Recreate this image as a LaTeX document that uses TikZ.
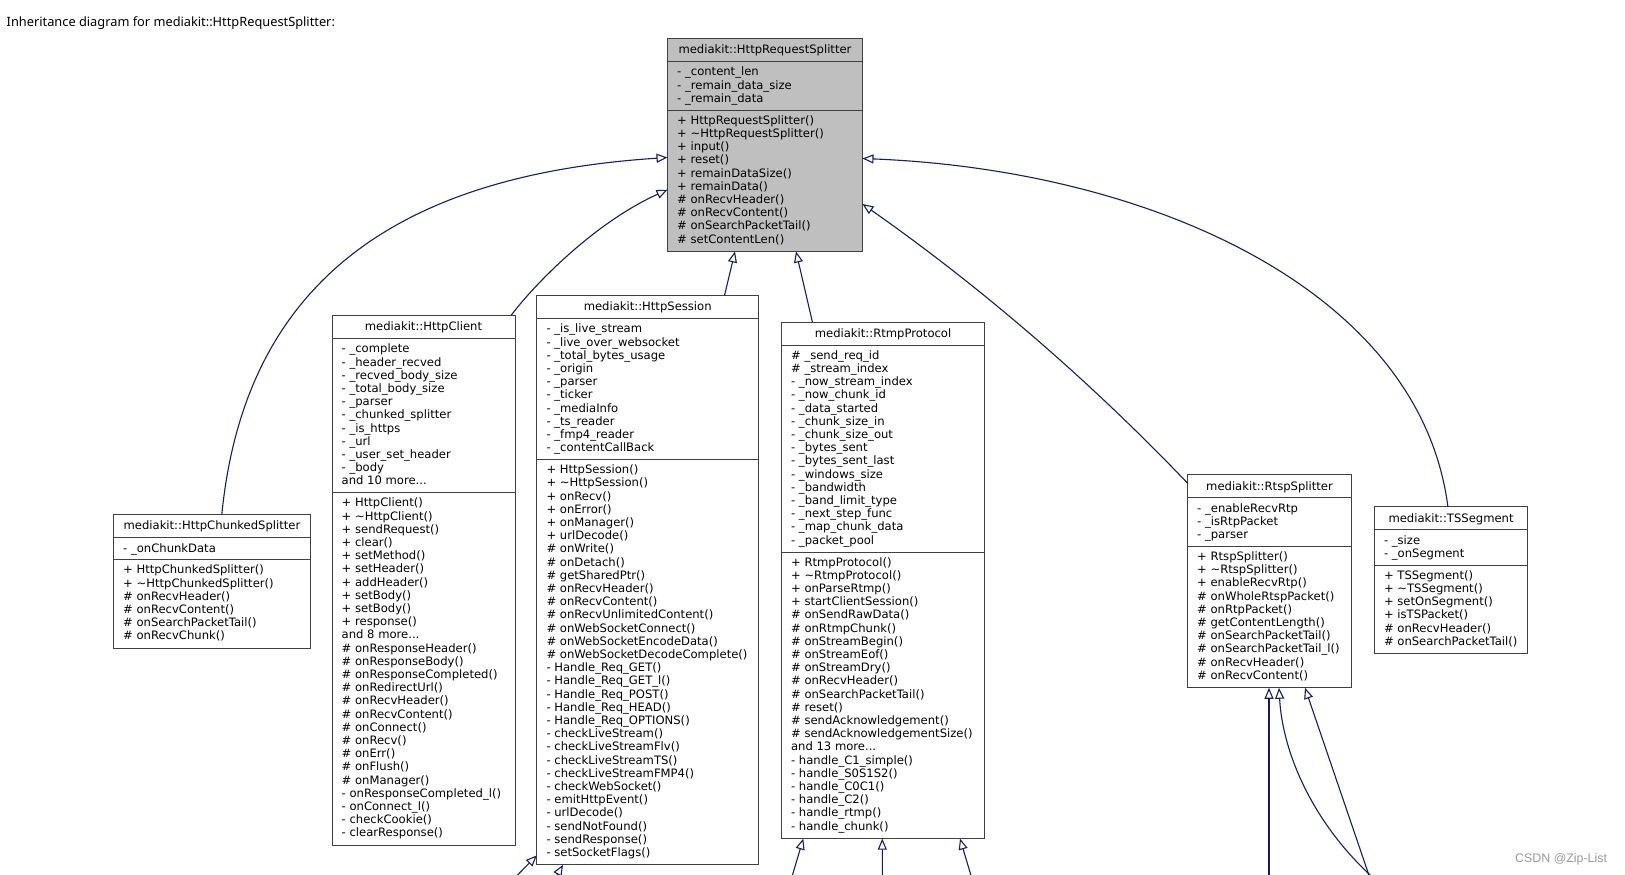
\documentclass[tikz,border=0pt]{standalone}
\usepackage{fontspec}
\usetikzlibrary{arrows.meta}
\newfontfamily\umlfam{DejaVu Sans}
\newfontfamily\headfam{Noto Sans}
\newfontfamily\markfam{Liberation Sans}
\newcommand\umlfont{\umlfam\fontsize{11.6}{13.2}\selectfont}
\definecolor{boxgray}{HTML}{404040}
\definecolor{mainfill}{HTML}{BFBFBF}
\definecolor{edgeblue}{HTML}{191970}
\definecolor{markgray}{HTML}{9A9A9A}
\def\ucfill{white}
\tikzset{
  clsbox/.style={draw=boxgray, line width=1pt, fill=\ucfill, inner sep=0pt, outer sep=0pt},
  clsline/.style={draw=boxgray, line width=1pt},
  clstitle/.style={font=\umlfont, inner sep=0pt},
  clstext/.style={font=\umlfont, inner sep=0pt, align=left, execute at begin node=\strut},
  inh/.style={draw=edgeblue, line width=1.1pt, -{Triangle[open, length=11pt, width=9pt]}}
}
% #1 name, #2 left x, #3 top y, #4 width, #5 title, #6 n attrs, #7 attrs, #8 n ops, #9 ops
\newcommand{\umlclass}[9]{%
  \pgfmathsetmacro{\ucSepA}{#3+23}%
  \pgfmathsetmacro{\ucSepB}{#3+32.1+13.2*#6}%
  \pgfmathsetmacro{\ucBot}{\ucSepB+9.3+13.2*#8}%
  \pgfmathsetmacro{\ucH}{\ucBot-(#3)}%
  \node[clsbox, minimum width=#4pt, minimum height=\ucH pt, anchor=north west] (#1) at (#2,#3) {};%
  \draw[clsline] (#2,\ucSepA) -- ++(#4,0);%
  \draw[clsline] (#2,\ucSepB) -- ++(#4,0);%
  \node[clstitle, anchor=base] (#1-name) at ({#2+#4/2},{#3+11.5+3.8}) {#5};%
  \node[clstext, anchor=north west] (#1-attrs) at ({#2+9.5},{\ucSepA+10.8-5.44}) {#7};%
  \node[clstext, anchor=north west] (#1-ops) at ({#2+9.5},{\ucSepB+10.5-5.44}) {#9};%
}
\begin{document}
\begin{tikzpicture}[x=1pt, y=-1pt]
\useasboundingbox (0,0) rectangle (1625,875);
\fill[white] (0,0) rectangle (1625,875);
\clip (0,0) rectangle (1625,875);

\node[font=\headfam\fontsize{12.8}{15}\selectfont, anchor=base west, inner sep=0pt] (heading) at (6.5,27) {Inheritance diagram for mediakit::HttpRequestSplitter:};

\def\ucfill{mainfill}
\umlclass{splitter}{667.5}{38.5}{195}{mediakit::HttpRequestSplitter}{3}{%
- \_content\_len\\- \_remain\_data\_size\\- \_remain\_data}{10}{%
+ HttpRequestSplitter()\\+ \textasciitilde HttpRequestSplitter()\\+ input()\\+ reset()\\+ remainDataSize()\\+ remainData()\\\# onRecvHeader()\\\# onRecvContent()\\\# onSearchPacketTail()\\\# setContentLen()}
\def\ucfill{white}

\umlclass{chunked}{113.5}{514.5}{197}{mediakit::HttpChunkedSplitter}{1}{%
- \_onChunkData}{6}{%
+ HttpChunkedSplitter()\\+ \textasciitilde HttpChunkedSplitter()\\\# onRecvHeader()\\\# onRecvContent()\\\# onSearchPacketTail()\\\# onRecvChunk()}

\umlclass{client}{332}{315.5}{183}{mediakit::HttpClient}{11}{%
- \_complete\\- \_header\_recved\\- \_recved\_body\_size\\- \_total\_body\_size\\- \_parser\\- \_chunked\_splitter\\- \_is\_https\\- \_url\\- \_user\_set\_header\\- \_body\\and 10 more...}{26}{%
+ HttpClient()\\+ \textasciitilde HttpClient()\\+ sendRequest()\\+ clear()\\+ setMethod()\\+ setHeader()\\+ addHeader()\\+ setBody()\\+ setBody()\\+ response()\\and 8 more...\\\# onResponseHeader()\\\# onResponseBody()\\\# onResponseCompleted()\\\# onRedirectUrl()\\\# onRecvHeader()\\\# onRecvContent()\\\# onConnect()\\\# onRecv()\\\# onErr()\\\# onFlush()\\\# onManager()\\- onResponseCompleted\_l()\\- onConnect\_l()\\- checkCookie()\\- clearResponse()}

\umlclass{session}{536.8}{295.5}{221.8}{mediakit::HttpSession}{10}{%
- \_is\_live\_stream\\- \_live\_over\_websocket\\- \_total\_bytes\_usage\\- \_origin\\- \_parser\\- \_ticker\\- \_mediaInfo\\- \_ts\_reader\\- \_fmp4\_reader\\- \_contentCallBack}{30}{%
+ HttpSession()\\+ \textasciitilde HttpSession()\\+ onRecv()\\+ onError()\\+ onManager()\\+ urlDecode()\\\# onWrite()\\\# onDetach()\\\# getSharedPtr()\\\# onRecvHeader()\\\# onRecvContent()\\\# onRecvUnlimitedContent()\\\# onWebSocketConnect()\\\# onWebSocketEncodeData()\\\# onWebSocketDecodeComplete()\\- Handle\_Req\_GET()\\- Handle\_Req\_GET\_l()\\- Handle\_Req\_POST()\\- Handle\_Req\_HEAD()\\- Handle\_Req\_OPTIONS()\\- checkLiveStream()\\- checkLiveStreamFlv()\\- checkLiveStreamTS()\\- checkLiveStreamFMP4()\\- checkWebSocket()\\- emitHttpEvent()\\- urlDecode()\\- sendNotFound()\\- sendResponse()\\- setSocketFlags()}

\umlclass{rtmp}{781.4}{322}{203.3}{mediakit::RtmpProtocol}{15}{%
\# \_send\_req\_id\\\# \_stream\_index\\- \_now\_stream\_index\\- \_now\_chunk\_id\\- \_data\_started\\- \_chunk\_size\_in\\- \_chunk\_size\_out\\- \_bytes\_sent\\- \_bytes\_sent\_last\\- \_windows\_size\\- \_bandwidth\\- \_band\_limit\_type\\- \_next\_step\_func\\- \_map\_chunk\_data\\- \_packet\_pool}{21}{%
+ RtmpProtocol()\\+ \textasciitilde RtmpProtocol()\\+ onParseRtmp()\\+ startClientSession()\\\# onSendRawData()\\\# onRtmpChunk()\\\# onStreamBegin()\\\# onStreamEof()\\\# onStreamDry()\\\# onRecvHeader()\\\# onSearchPacketTail()\\\# reset()\\\# sendAcknowledgement()\\\# sendAcknowledgementSize()\\and 13 more...\\- handle\_C1\_simple()\\- handle\_S0S1S2()\\- handle\_C0C1()\\- handle\_C2()\\- handle\_rtmp()\\- handle\_chunk()}

\umlclass{rtsp}{1187.5}{474.8}{164}{mediakit::RtspSplitter}{3}{%
- \_enableRecvRtp\\- \_isRtpPacket\\- \_parser}{10}{%
+ RtspSplitter()\\+ \textasciitilde RtspSplitter()\\+ enableRecvRtp()\\\# onWholeRtspPacket()\\\# onRtpPacket()\\\# getContentLength()\\\# onSearchPacketTail()\\\# onSearchPacketTail\_l()\\\# onRecvHeader()\\\# onRecvContent()}

\umlclass{tsseg}{1374.3}{506.8}{153.5}{mediakit::TSSegment}{2}{%
- \_size\\- \_onSegment}{6}{%
+ TSSegment()\\+ \textasciitilde TSSegment()\\+ setOnSegment()\\+ isTSPacket()\\\# onRecvHeader()\\\# onSearchPacketTail()}

% inheritance edges to the base class
\draw[inh] ([xshift=108.3pt]chunked.north west) .. controls (245,280) and (400,175) .. ([yshift=-119pt]splitter.north west);
\draw[inh] ([xshift=179pt]client.north west) .. controls (530,290) and (590,225) .. ([yshift=-151.2pt]splitter.north west);
\draw[inh] ([xshift=187.7pt]session.north west) -- ([xshift=67.5pt]splitter.south west);
\draw[inh] ([xshift=31pt]rtmp.north west) -- ([xshift=128.5pt]splitter.south west);
\draw[inh] ([yshift=-8.3pt]rtsp.north west) .. controls (1088.4,379.4) and (980,286.4) .. ([yshift=-165.5pt]splitter.north east);
\draw[inh] ([xshift=73.6pt]tsseg.north west) .. controls (1420,290) and (1150,170) .. ([yshift=-120pt]splitter.north east);

% edges from derived classes below the visible area
\coordinate (sesA) at (502.8,890);
\coordinate (sesB) at (548,890.5);
\coordinate (rtmpA) at (788,890);
\coordinate (rtmpB) at (882.3,890);
\coordinate (rtmpC) at (975.3,890);
\coordinate (rtspA) at (1269,890);
\coordinate (rtspB) at (1385,888);
\coordinate (rtspC) at (1374,890);
\draw[inh] (sesA) -- ([yshift=9.5pt]session.south west);
\draw[inh] (sesB) -- ([xshift=26.2pt]session.south west);
\draw[inh] (rtmpA) -- ([xshift=21.9pt]rtmp.south west);
\draw[inh] (rtmpB) -- ([xshift=100.9pt]rtmp.south west);
\draw[inh] (rtmpC) -- ([xshift=178.6pt]rtmp.south west);
\draw[inh] (rtspA) -- ([xshift=81.5pt]rtsp.south west);
\draw[inh] (rtspB) .. controls (1320,835) and (1283,760) .. ([xshift=91.5pt]rtsp.south west);
\draw[inh] (rtspC) -- ([xshift=117.5pt]rtsp.south west);

\node[font=\markfam\fontsize{12.4}{14}\selectfont, text=markgray, anchor=base west, inner sep=0pt] (watermark) at (1515,862.5) {CSDN @Zip-List};
\end{tikzpicture}
\end{document}
